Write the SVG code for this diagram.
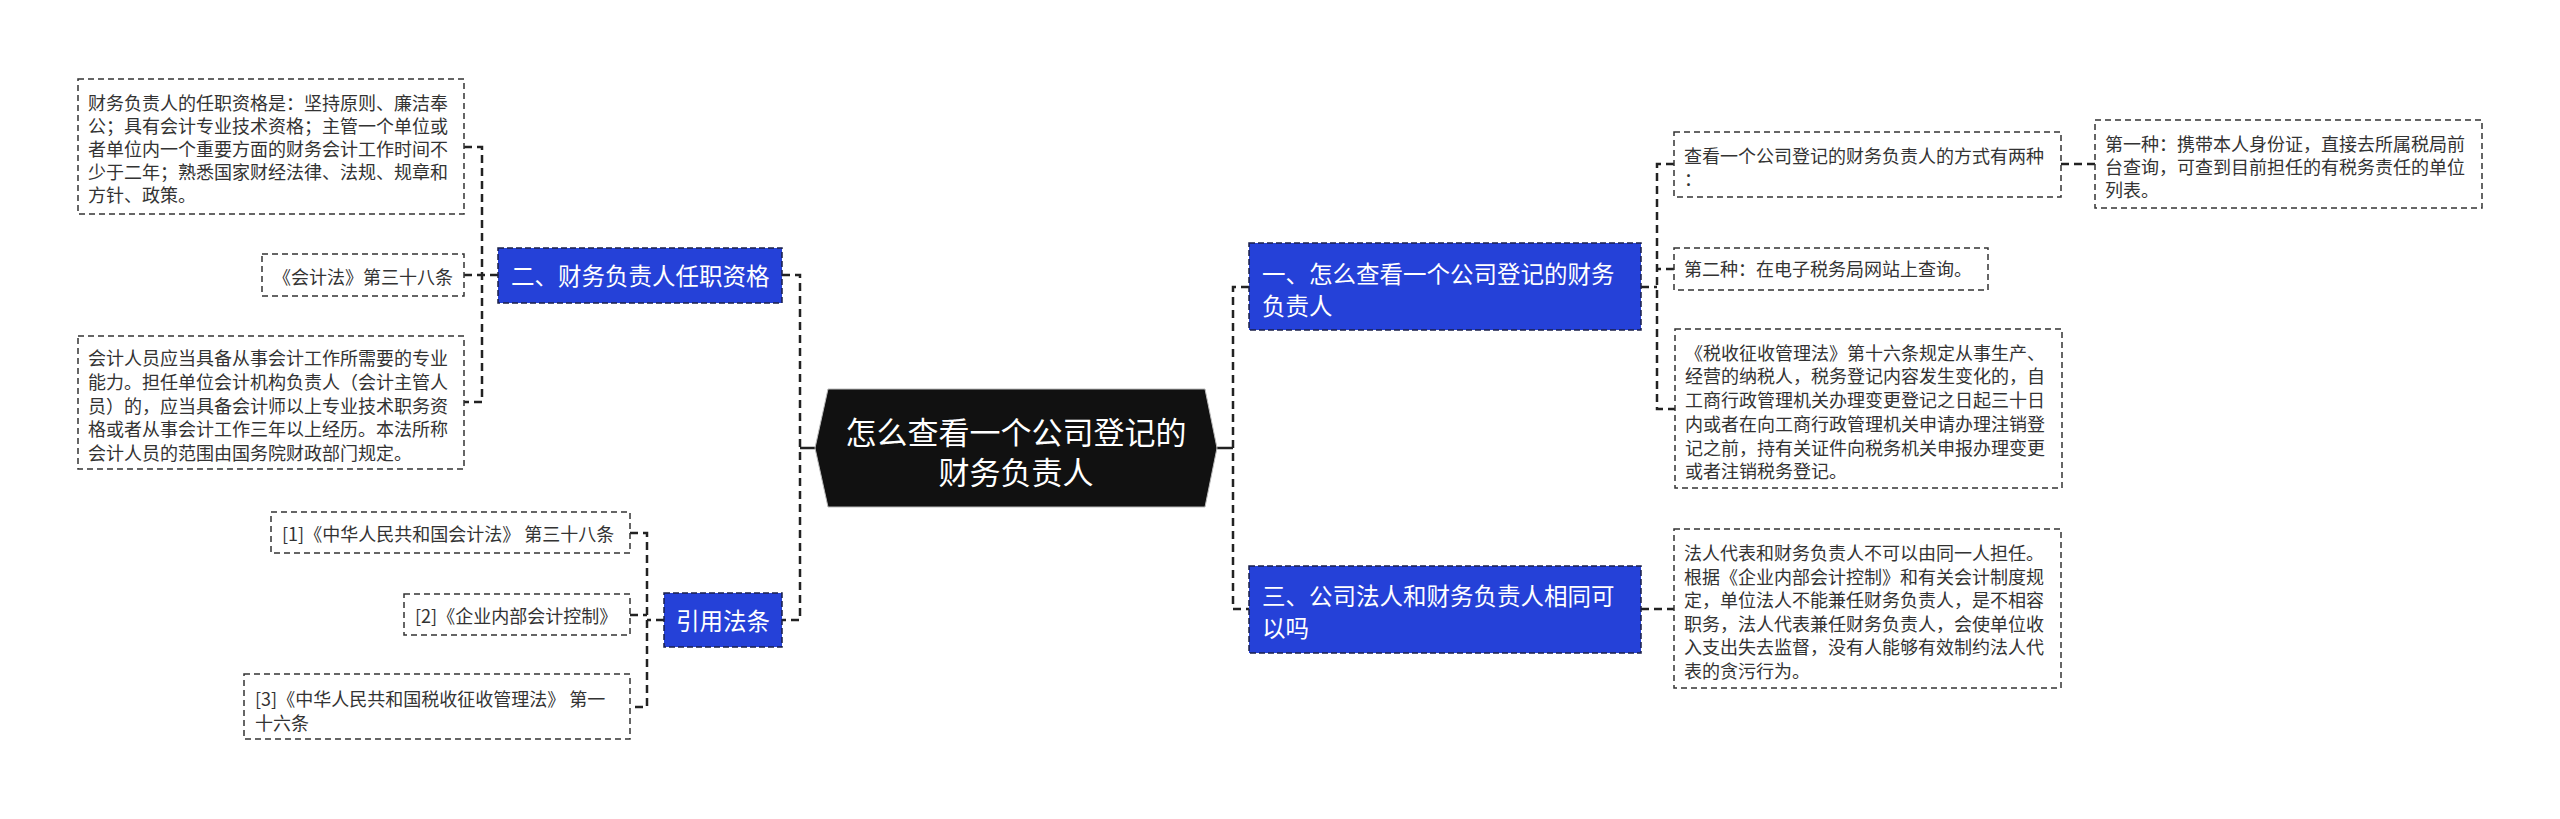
<svg xmlns="http://www.w3.org/2000/svg" width="2560" height="819" viewBox="0 0 2560 819">
<style>
text{font-family:"Noto Sans CJK SC","Noto Sans",sans-serif;dominant-baseline:central}
.box{fill:#fff;stroke:#333;stroke-width:1.5;stroke-dasharray:6 4}
.leaf{font-size:18px;fill:#333}
.blue{fill:#2541d8;stroke:#1a1f4a;stroke-width:1.5;stroke-dasharray:6 3}
.bt{font-size:23.5px;fill:#fff}
.conn{fill:none;stroke:#222;stroke-width:2.5;stroke-dasharray:8 5}
.solid{fill:none;stroke:#222;stroke-width:2.5}
</style>
<rect width="2560" height="819" fill="#fff"/>
<g id="connectors">
<path class="solid" d="M800,448 H817"/>
<path class="conn" d="M782,275 H800 V620 H782"/>
<path class="conn" d="M498,275 H482"/>
<path class="conn" d="M464,147 H482 V402 H464"/>
<path class="conn" d="M464,275 H482"/>
<path class="conn" d="M664,620 H647"/>
<path class="conn" d="M630,533 H647 V707 H630"/>
<path class="conn" d="M630,615 H647"/>
<path class="solid" d="M1217,448 H1233"/>
<path class="conn" d="M1249,287 H1233 V609 H1249"/>
<path class="conn" d="M1641,287 H1657"/>
<path class="conn" d="M1674,164 H1657 V409 H1675"/>
<path class="conn" d="M1674,269 H1657"/>
<path class="conn" d="M2061,164 H2095"/>
<path class="conn" d="M1641,609 H1674"/>
</g>
<g id="center">
<polygon points="815,448 828,389 1205,389 1217,448 1205,507 828,507" fill="#111" stroke="#bbb" stroke-width="1"/>
<text x="1016" y="430" font-size="31" fill="#fff" text-anchor="middle">怎么查看一个公司登记的</text>
<text x="1016" y="470" font-size="31" fill="#fff" text-anchor="middle">财务负责人</text>
</g>
<g id="n2">
<rect class="blue" x="498" y="248" width="284" height="55"/>
<text class="bt" x="511" y="275">二、财务负责人任职资格</text>
</g>
<g id="n2a">
<rect class="box" x="78" y="79" width="386" height="135"/>
<text class="leaf" x="88" y="102">财务负责人的任职资格是：坚持原则、廉洁奉</text>
<text class="leaf" x="88" y="125">公；具有会计专业技术资格；主管一个单位或</text>
<text class="leaf" x="88" y="148">者单位内一个重要方面的财务会计工作时间不</text>
<text class="leaf" x="88" y="171">少于二年；熟悉国家财经法律、法规、规章和</text>
<text class="leaf" x="88" y="194">方针、政策。</text>
</g>
<g id="n2b">
<rect class="box" x="262" y="254" width="202" height="42"/>
<text class="leaf" x="273" y="276">《会计法》第三十八条</text>
</g>
<g id="n2c">
<rect class="box" x="78" y="336" width="386" height="133"/>
<text class="leaf" x="88" y="357">会计人员应当具备从事会计工作所需要的专业</text>
<text class="leaf" x="88" y="381">能力。担任单位会计机构负责人（会计主管人</text>
<text class="leaf" x="88" y="405">员）的，应当具备会计师以上专业技术职务资</text>
<text class="leaf" x="88" y="428">格或者从事会计工作三年以上经历。本法所称</text>
<text class="leaf" x="88" y="452">会计人员的范围由国务院财政部门规定。</text>
</g>
<g id="n4">
<rect class="blue" x="664" y="593" width="118" height="54"/>
<text class="bt" x="723" y="620" text-anchor="middle">引用法条</text>
</g>
<g id="n4a">
<rect class="box" x="271" y="512" width="359" height="41"/>
<text class="leaf" x="282" y="533">[1]《中华人民共和国会计法》 第三十八条</text>
</g>
<g id="n4b">
<rect class="box" x="404" y="594" width="226" height="41"/>
<text class="leaf" x="415" y="615">[2]《企业内部会计控制》</text>
</g>
<g id="n4c">
<rect class="box" x="244" y="674" width="386" height="65"/>
<text class="leaf" x="255" y="698">[3]《中华人民共和国税收征收管理法》 第一</text>
<text class="leaf" x="255" y="722">十六条</text>
</g>
<g id="n1">
<rect class="blue" x="1249" y="243" width="392" height="87"/>
<text class="bt" x="1262" y="273">一、怎么查看一个公司登记的财务</text>
<text class="bt" x="1262" y="305">负责人</text>
</g>
<g id="n1a">
<rect class="box" x="1674" y="132" width="387" height="65"/>
<text class="leaf" x="1684" y="155">查看一个公司登记的财务负责人的方式有两种</text>
<text class="leaf" x="1684" y="178">：</text>
</g>
<g id="n1a1">
<rect class="box" x="2095" y="120" width="387" height="88"/>
<text class="leaf" x="2105" y="143">第一种：携带本人身份证，直接去所属税局前</text>
<text class="leaf" x="2105" y="166">台查询，可查到目前担任的有税务责任的单位</text>
<text class="leaf" x="2105" y="189">列表。</text>
</g>
<g id="n1b">
<rect class="box" x="1674" y="248" width="314" height="42"/>
<text class="leaf" x="1684" y="268">第二种：在电子税务局网站上查询。</text>
</g>
<g id="n1c">
<rect class="box" x="1675" y="329" width="387" height="159"/>
<text class="leaf" x="1685" y="352">《税收征收管理法》第十六条规定从事生产、</text>
<text class="leaf" x="1685" y="375">经营的纳税人，税务登记内容发生变化的，自</text>
<text class="leaf" x="1685" y="399">工商行政管理机关办理变更登记之日起三十日</text>
<text class="leaf" x="1685" y="423">内或者在向工商行政管理机关申请办理注销登</text>
<text class="leaf" x="1685" y="447">记之前，持有关证件向税务机关申报办理变更</text>
<text class="leaf" x="1685" y="470">或者注销税务登记。</text>
</g>
<g id="n3">
<rect class="blue" x="1249" y="566" width="392" height="87"/>
<text class="bt" x="1262" y="595">三、公司法人和财务负责人相同可</text>
<text class="bt" x="1262" y="627">以吗</text>
</g>
<g id="n3a">
<rect class="box" x="1674" y="529" width="387" height="159"/>
<text class="leaf" x="1684" y="552">法人代表和财务负责人不可以由同一人担任。</text>
<text class="leaf" x="1684" y="576">根据《企业内部会计控制》和有关会计制度规</text>
<text class="leaf" x="1684" y="599">定，单位法人不能兼任财务负责人，是不相容</text>
<text class="leaf" x="1684" y="623">职务，法人代表兼任财务负责人，会使单位收</text>
<text class="leaf" x="1684" y="646">入支出失去监督，没有人能够有效制约法人代</text>
<text class="leaf" x="1684" y="670">表的贪污行为。</text>
</g>
</svg>
